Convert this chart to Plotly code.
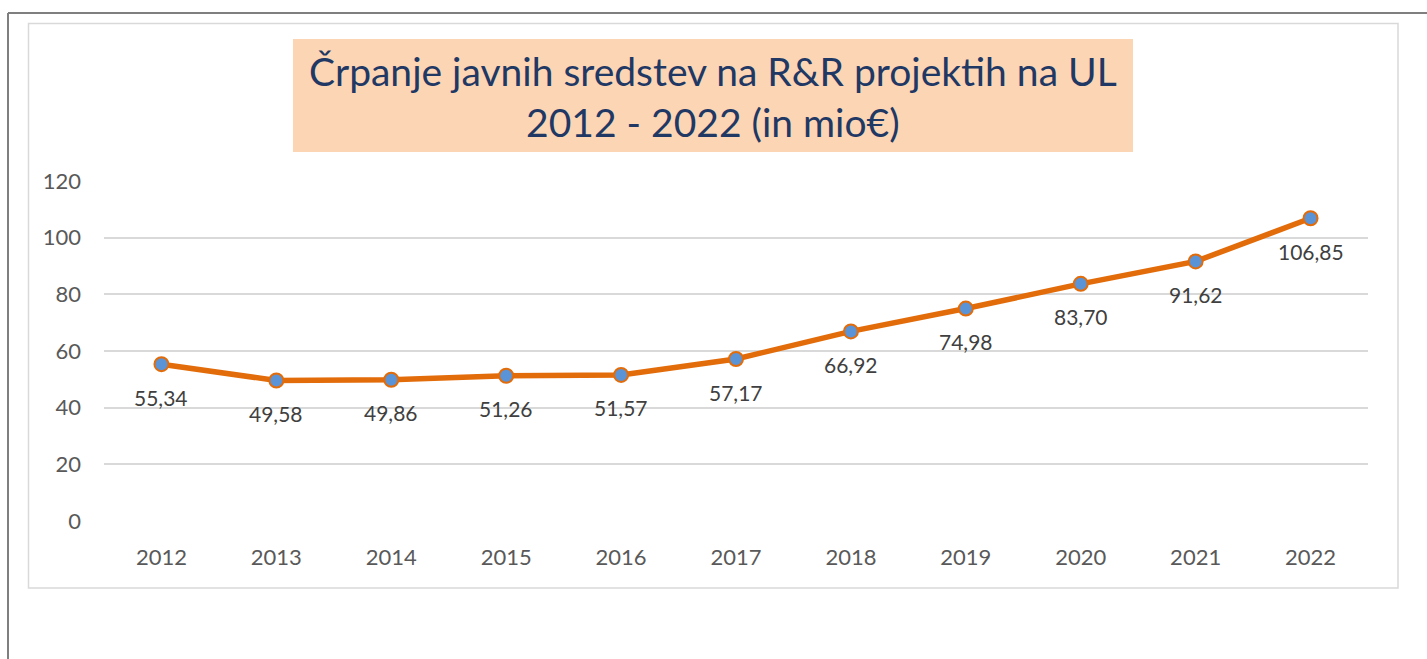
import plotly.graph_objects as go

years = ["2012", "2013", "2014", "2015", "2016", "2017", "2018", "2019", "2020", "2021", "2022"]
values = [55.34, 49.58, 49.86, 51.26, 51.57, 57.17, 66.92, 74.98, 83.70, 91.62, 106.85]
labels = [f"{v:.2f}".replace(".", ",") for v in values]
y_ticks = [0, 20, 40, 60, 80, 100, 120]
title_lines = ["Črpanje javnih sredstev na R&R projektih na UL", "2012 - 2022 (in mio€)"]

W, H = 1427, 659
L, R, T, B = 104, 1368, 181, 521  # plot area in pixels


def px(x):
    return (x - L) / (R - L)


def py(y):
    return (B - y) / (B - T)


FONT = "Lato, Open Sans, sans-serif"

fig = go.Figure()
fig.add_trace(go.Scatter(
    x=years, y=values, mode="lines+markers",
    line=dict(color="#E36C0A", width=5.5),
    marker=dict(size=14, color="#5A93D6", line=dict(color="#E36C0A", width=2)),
    hoverinfo="x+y", showlegend=False,
))

annotations = []
for i, (v, lab) in enumerate(zip(values, labels)):
    annotations.append(dict(
        x=i, y=v, xref="x", yref="y", text=lab, showarrow=False,
        yshift=-33, font=dict(family=FONT, size=21, color="#404040"),
    ))

# Title box
annotations.append(dict(
    x=px((293 + 1133) / 2), y=py((39 + 152) / 2 + 1), xref="paper", yref="paper",
    xanchor="center", yanchor="middle",
    text="<br>".join(title_lines), showarrow=False,
    font=dict(family=FONT, size=39, color="#1F3864"),
    align="center",
))

shapes = [
    # title background
    dict(type="rect", xref="paper", yref="paper", x0=px(293), x1=px(1133), y0=py(152), y1=py(39),
         fillcolor="#FCD5B4", line=dict(width=0), layer="below"),
    # inner chart border
    dict(type="rect", xref="paper", yref="paper", x0=px(28.5), x1=px(1398), y0=py(588), y1=py(23.5),
         fillcolor="rgba(0,0,0,0)", line=dict(color="#D9D9D9", width=1.5), layer="below"),
    # outer border top and left
    dict(type="line", xref="paper", yref="paper", x0=px(8), x1=px(1430), y0=py(13), y1=py(13),
         line=dict(color="#7F7F7F", width=2)),
    dict(type="line", xref="paper", yref="paper", x0=px(8), x1=px(8), y0=py(13), y1=py(665),
         line=dict(color="#7F7F7F", width=2)),
]

fig.update_layout(
    width=W, height=H,
    margin=dict(l=L, r=W - R, t=T, b=H - B, pad=0),
    paper_bgcolor="white", plot_bgcolor="white",
    annotations=annotations, shapes=shapes,
    xaxis=dict(type="category", range=[-0.5, 10.5], showgrid=False, zeroline=False,
               showline=False, ticks="", ticklabelstandoff=21,
               tickfont=dict(family=FONT, size=22, color="#595959")),
    yaxis=dict(range=[0, 120], tickvals=y_ticks, showgrid=True, gridcolor="#D9D9D9",
               gridwidth=1.5, zeroline=False, showline=False, ticks="", ticklabelstandoff=22,
               tickfont=dict(family=FONT, size=22, color="#595959")),
    font=dict(family=FONT),
)

fig.write_html("out.html", config={"displayModeBar": False},
               post_script="document.body.style.margin='0';document.body.style.overflow='hidden';")
